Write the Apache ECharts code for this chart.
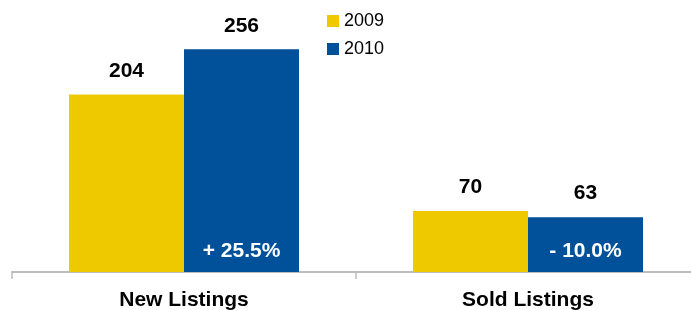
<!DOCTYPE html>
<html>
<head>
<meta charset="utf-8">
<script src="https://cdn.jsdelivr.net/npm/echarts@6/dist/echarts.min.js"></script>
<style>
html,body{margin:0;padding:0;background:#fff;}
#chart{width:691px;height:310px;}
</style>
</head>
<body>
<div id="chart"></div>
<script>
const categories = ['New Listings', 'Sold Listings'];
const seriesNames = ['2009', '2010'];
const values2009 = [204, 70];
const values2010 = [256, 63];
const changeLabels = ['+ 25.5%', '- 10.0%'];

const FONT = '"Liberation Sans", Arial, sans-serif';
const YELLOW = '#EEC900';
const BLUE = '#00519A';

const chart = echarts.init(document.getElementById('chart'), null, {renderer: 'canvas'});
chart.setOption({
  animation: false,
  textStyle: {fontFamily: FONT},
  legend: {
    data: seriesNames,
    orient: 'vertical',
    left: 327, top: 12,
    itemWidth: 12, itemHeight: 12, itemGap: 10,
    padding: 0,
    icon: 'rect',
    textStyle: {fontSize: 18, color: '#000', fontFamily: FONT, padding: [0, 0, 0, 0]},
    selectedMode: false
  },
  grid: {left: 12, right: -9, top: 11, bottom: 38, containLabel: false, outerBoundsMode: 'none'},
  xAxis: [{
    type: 'category',
    data: categories,
    axisLine: {lineStyle: {color: '#BDBDBD', width: 2}},
    axisTick: {show: true, length: 7, lineStyle: {color: '#BDBDBD', width: 1.5}},
    axisLabel: {fontSize: 21, fontWeight: 'bold', color: '#000', fontFamily: FONT, margin: 18}
  }, {
    type: 'category',
    data: categories,
    show: false,
    position: 'top'
  }],
  yAxis: [{
    type: 'value', min: 0, max: 300, show: false, splitLine: {show: false}
  }, {
    type: 'value', min: 0, max: 300, show: false, splitLine: {show: false}
  }],
  series: [{
    name: seriesNames[0],
    type: 'bar',
    data: values2009,
    barWidth: 115,
    barGap: '0%',
    itemStyle: {color: YELLOW},
    label: {show: true, position: 'top', distance: 13, fontSize: 21, fontWeight: 'bold', color: '#000', fontFamily: FONT}
  }, {
    name: seriesNames[1],
    type: 'bar',
    data: values2010,
    barWidth: 115,
    barGap: '0%',
    itemStyle: {color: BLUE},
    label: {show: true, position: 'top', distance: 13, fontSize: 21, fontWeight: 'bold', color: '#000', fontFamily: FONT}
  }, {
    name: 'spacer',
    type: 'bar',
    xAxisIndex: 1, yAxisIndex: 1,
    data: values2009,
    barWidth: 115,
    barGap: '0%',
    silent: true,
    itemStyle: {color: 'rgba(0,0,0,0)'},
    label: {show: false}
  }, {
    name: 'change',
    type: 'bar',
    xAxisIndex: 1, yAxisIndex: 1,
    data: values2010,
    barWidth: 115,
    barGap: '0%',
    silent: true,
    itemStyle: {color: 'rgba(0,0,0,0)'},
    label: {
      show: true, position: 'insideBottom', distance: 10,
      formatter: p => changeLabels[p.dataIndex],
      fontSize: 21, fontWeight: 'bold', color: '#fff', fontFamily: FONT
    }
  }]
});
</script>
</body>
</html>
